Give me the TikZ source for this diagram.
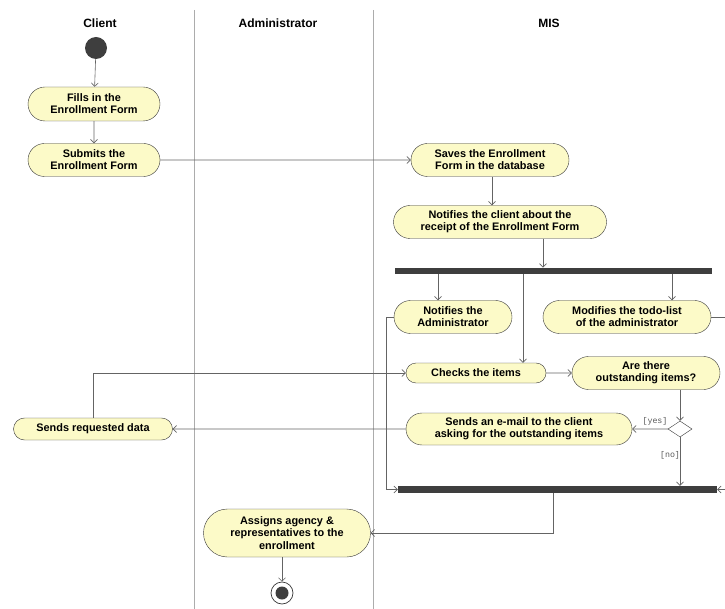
\documentclass[tikz,border=0pt]{standalone}
\usepackage{fontspec}
\setmainfont{Liberation Sans}
\newfontfamily\guardfont{Liberation Mono}
\usetikzlibrary{shapes.misc,shapes.geometric,arrows.meta}
\definecolor{actfill}{RGB}{252,250,200}
\definecolor{actline}{RGB}{55,55,55}
\definecolor{flowline}{RGB}{100,100,100}
\definecolor{barcol}{RGB}{62,62,62}
\tikzset{
  action/.style={rounded rectangle, draw=actline, fill=actfill, align=center, inner sep=1pt,
    font=\fontsize{10.9}{12.2}\selectfont\bfseries},
  actsize/.style 2 args={minimum width=#1pt, minimum height=#2pt},
  flow/.style={draw=flowline, line width=0.6pt, -{Straight Barb[length=3.5pt,width=7pt]}},
  syncbar/.style={fill=barcol, inner sep=0pt, minimum height=6.5pt},
  lane/.style={draw=gray!65, line width=0.6pt},
  guard/.style={font=\fontsize{8.3}{9}\guardfont, text=gray!70!black},
  lanehead/.style={font=\fontsize{12}{14}\selectfont\bfseries}
}

\begin{document}
\begin{tikzpicture}[x=1pt,y=-1pt]
  \useasboundingbox (0,0) rectangle (725,609);
  \draw[lane] (194,10) -- (194,609);
  \draw[lane] (373,10) -- (373,609);
  \node[lanehead] (client) at (100,23) {Client};
  \node[lanehead] (admin) at (278,23) {Administrator};
  \node[lanehead] (mis) at (549,23) {MIS};

  \node[circle, fill=barcol, minimum size=22pt, inner sep=0pt] (start) at (96,48) {};
  \node[action, actsize={134}{34}] (fillin) at (94,104) {Fills in the\\Enrollment Form};
  \node[action, actsize={134}{33}] (submit) at (94,160) {Submits the\\Enrollment Form};
  \node[action, actsize={160}{33}] (save) at (490,160) {Saves the Enrollment\\Form in the database};
  \node[action, actsize={215}{33}] (notclient) at (500,222) {Notifies the client about the\\receipt of the Enrollment Form};
  \node[syncbar, minimum width=317pt] (fork) at (553.5,271) {};
  \node[action, actsize={120}{33}] (notadmin) at (453,317) {Notifies the\\Administrator};
  \node[action, actsize={170}{33}] (todo) at (627,317) {Modifies the todo-list\\of the administrator};
  \node[action, actsize={142}{20}] (check) at (476,373) {Checks the items};
  \node[action, actsize={150}{33}] (outst) at (646,373) {Are there\\outstanding items?};
  \node[diamond, draw=actline, fill=white, minimum width=24pt, minimum height=16pt, inner sep=0pt] (decide) at (680,429) {};
  \node[action, actsize={228}{32}] (email) at (519,429) {Sends an e-mail to the client\\asking for the outstanding items};
  \node[action, actsize={161}{22}] (senddata) at (93,429) {Sends requested data};
  \node[syncbar, minimum width=319pt, minimum height=7pt] (join) at (557.5,489.5) {};
  \node[action, actsize={169}{48}] (assign) at (287,533) {Assigns agency \&\\representatives to the\\enrollment};
  \node[circle, draw=actline, fill=white, line width=0.7pt, minimum size=22pt, inner sep=0pt] (finish) at (282,593) {};
  \node[circle, fill=barcol, minimum size=13pt, inner sep=0pt] (finishdot) at (finish) {};
  \node[guard] (yes) at (655,421) {[yes]};
  \node[guard] (no) at (670,455) {[no]};

  \draw[flow] (start) -- (fillin);
  \draw[flow] (fillin) -- (submit);
  \draw[flow] (submit) -- (save);
  \draw[flow] ([xshift=2pt]save.south) -- ([xshift=2pt]save.south |- notclient.north);
  \draw[flow] ([xshift=43pt]notclient.south) -- ([xshift=43pt]notclient.south |- fork.north);
  \draw[flow] ([xshift=-15pt]notadmin.north |- fork.south) -- ([xshift=-15pt]notadmin.north);
  \draw[flow] ([xshift=45pt]todo.north |- fork.south) -- ([xshift=45pt]todo.north);
  \draw[flow] ([xshift=47pt]check.north |- fork.south) -- ([xshift=47pt]check.north);
  \draw[flow] (check) -- (outst);
  \draw[flow] (decide |- outst.south) -- (decide.north);
  \draw[flow] (decide) -- (email);
  \draw[flow] (decide) -- (decide |- join.north);
  \draw[flow] (email) -- (senddata);
  \draw[flow] (senddata.north) |- (check.west);
  \draw[flow] (notadmin.west) -- ++(-8,0) |- (join.west);
  \draw[flow] (todo.east) -- ++(20,0) |- (join.east);
  \draw[flow] ([xshift=-4.5pt]join.south) |- (assign.east);
  \draw[flow] (assign.south -| finish) -- (finish.north);
\end{tikzpicture}
\end{document}
